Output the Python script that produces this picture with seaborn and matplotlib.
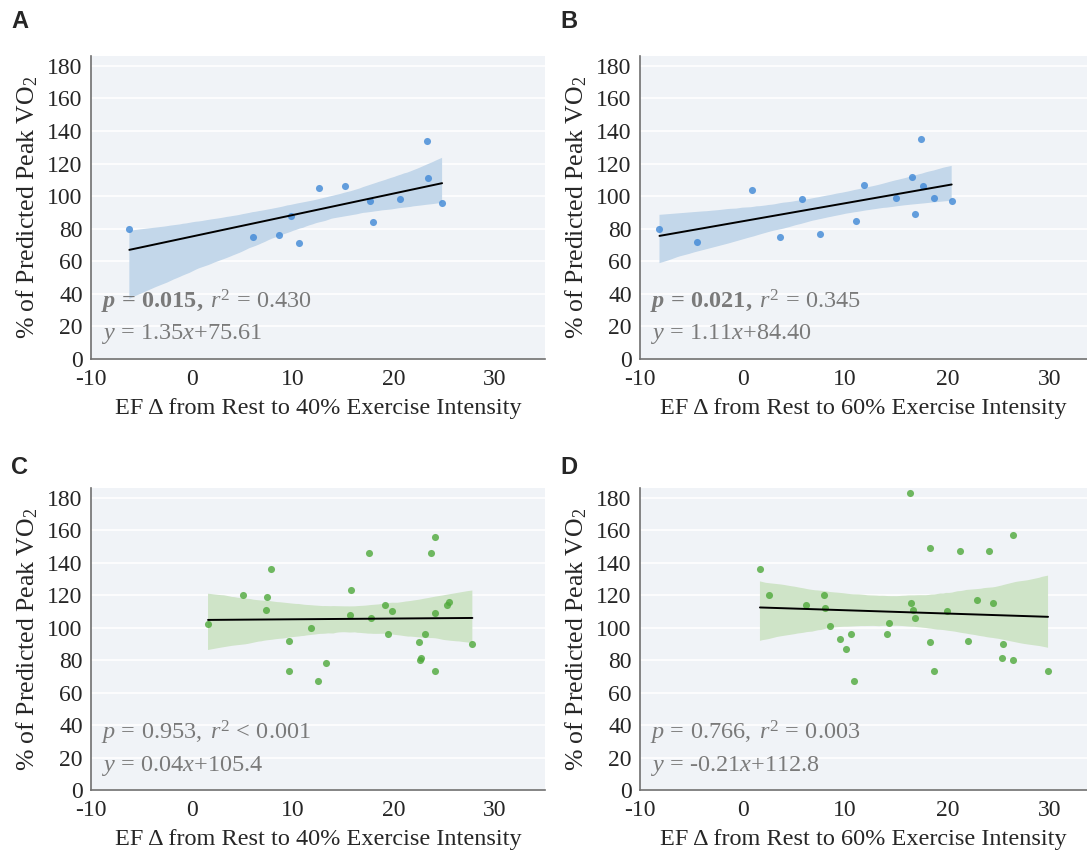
import numpy as np
import pandas as pd
import matplotlib
matplotlib.use("Agg")
import matplotlib.pyplot as plt
from matplotlib.ticker import MultipleLocator
import seaborn as sns

# EF change (x) vs % predicted peak VO2 (y)
a_ef = [-6.2, 6.1, 8.6, 9.8, 10.6, 12.6, 15.2, 17.7, 18.0, 20.6, 23.3, 23.4, 24.8]
a_vo2 = [80, 75, 76, 88, 71, 105, 106, 97, 84, 98, 134, 111, 96]

b_ef = [-8.1, -4.4, 0.9, 3.7, 5.8, 7.6, 11.1, 11.8, 15.0, 16.5, 16.8, 17.4, 17.6, 18.7, 20.4]
b_vo2 = [80, 72, 104, 75, 98, 77, 85, 107, 99, 112, 89, 135, 106, 99, 97]

c_ef = [1.6, 5.1, 7.4, 7.3, 7.8, 9.6, 9.6, 11.8, 12.5, 13.3, 15.7, 15.8, 17.6, 17.8,
        19.1, 19.4, 19.8, 22.5, 22.6, 22.7, 23.1, 23.7, 24.1, 24.1, 24.1, 25.3, 25.5, 27.8]
c_vo2 = [102, 120, 119, 111, 136, 92, 73, 100, 67, 78, 108, 123, 146, 106,
         114, 96, 110, 91, 80, 81, 96, 146, 156, 109, 73, 114, 116, 90]

d_ef = [16.3, 1.7, 2.6, 6.2, 7.9, 8.0, 8.5, 9.5, 10.1, 10.6, 10.9, 14.1, 14.3, 16.4, 16.6,
        16.8, 18.3, 18.3, 18.7, 19.9, 21.2, 22.0, 22.9, 24.0, 24.4, 25.4, 25.3, 26.4, 26.4, 29.8]
d_vo2 = [183, 136, 120, 114, 120, 112, 101, 93, 87, 96, 67, 96, 103, 115, 111,
         106, 91, 149, 73, 110, 147, 92, 117, 147, 115, 90, 81, 157, 80, 73]

letters = ["A", "B", "C", "D"]
xlabels = ["EF \u0394 from Rest to 40% Exercise Intensity",
           "EF \u0394 from Rest to 60% Exercise Intensity",
           "EF \u0394 from Rest to 40% Exercise Intensity",
           "EF \u0394 from Rest to 60% Exercise Intensity"]
stat_lines = [r"$\mathbfit{p}\mathbf{\,=\,0.015,}\;\mathit{r}^{2}\mathrm{\,=\,0.430}$",
              r"$\mathbfit{p}\mathbf{\,=\,0.021,}\;\mathit{r}^{2}\mathrm{\,=\,0.345}$",
              r"$\mathit{p}\mathrm{\,=\,0.953,}\;\mathit{r}^{2}\mathrm{\,<\,0.001}$",
              r"$\mathit{p}\mathrm{\,=\,0.766,}\;\mathit{r}^{2}\mathrm{\,=\,0.003}$"]
eq_lines = [r"$\mathit{y}\mathrm{\,=\,1.35}\mathit{x}\mathrm{+75.61}$",
            r"$\mathit{y}\mathrm{\,=\,1.11}\mathit{x}\mathrm{+84.40}$",
            r"$\mathit{y}\mathrm{\,=\,0.04}\mathit{x}\mathrm{+105.4}$",
            r"$\mathit{y}\mathrm{\,=\,}$-$\mathrm{0.21}\mathit{x}\mathrm{+112.8}$"]

BLUE = "#3f88d6"
BLUE_BAND = "#c3d7ea"
GREEN = "#4ea93a"
GREEN_BAND = "#cfe4c8"
BG = "#f0f3f7"
TXT = "#7a7a7a"

sns.set_style("white")
plt.rcParams["font.family"] = ["Liberation Serif", "DejaVu Serif"]
plt.rcParams["axes.unicode_minus"] = False
plt.rcParams["mathtext.fontset"] = "custom"
plt.rcParams["mathtext.rm"] = "Liberation Serif"
plt.rcParams["mathtext.it"] = "Liberation Serif:italic"
plt.rcParams["mathtext.bf"] = "Liberation Serif:bold"
plt.rcParams["mathtext.bfit"] = "Liberation Serif:bold:italic"

fig = plt.figure(figsize=(10.87, 8.58), dpi=100)
W, H = 1087, 858
# axes boxes in pixels: left, top, right, bottom
boxes = [(91, 56, 545, 359), (640, 56, 1087, 359),
         (91, 488, 545, 790), (640, 488, 1087, 790)]
xmax = [35, 33.6, 35, 33.6]
letter_y = [22, 22, 468, 468]

data = [(a_ef, a_vo2, BLUE, BLUE_BAND), (b_ef, b_vo2, BLUE, BLUE_BAND),
        (c_ef, c_vo2, GREEN, GREEN_BAND), (d_ef, d_vo2, GREEN, GREEN_BAND)]

for i, (ef, vo2, col, band) in enumerate(data):
    l, t, r, b = boxes[i]
    ax = fig.add_axes([l / W, 1 - b / H, (r - l) / W, (b - t) / H])
    ax.set_facecolor(BG)
    df = pd.DataFrame({"ef": ef, "vo2": vo2})
    sns.regplot(data=df, x="ef", y="vo2", ax=ax, ci=95, seed=3, truncate=True,
                scatter_kws={"s": 26, "color": col, "linewidths": 0, "zorder": 4},
                line_kws={"color": "black", "lw": 1.4, "zorder": 5})
    # recolour the CI band
    for coll in ax.collections[1:]:
        coll.set_facecolor(band)
        coll.set_alpha(1)
        coll.set_edgecolor("none")
        coll.set_zorder(2)

    ax.set_xlim(-10, xmax[i])
    ax.set_ylim(0, 186)
    ax.set_yticks(range(0, 181, 20))
    ax.xaxis.set_major_locator(MultipleLocator(10))
    ax.xaxis.set_minor_locator(MultipleLocator(2))
    ax.grid(axis="y", color="white", lw=1.2, zorder=1)
    ax.set_axisbelow(True)
    for s in ["top", "right"]:
        ax.spines[s].set_visible(False)
    for s in ["left", "bottom"]:
        ax.spines[s].set_color("#707070")
        ax.spines[s].set_linewidth(1.2)
    ax.tick_params(axis="x", direction="in", length=6, width=1, color="#707070",
                   labelsize=17, pad=7)
    ax.tick_params(axis="x", which="minor", direction="in", length=3, width=1,
                   color="#707070")
    ax.tick_params(axis="y", direction="out", length=5, width=1, color="#707070",
                   labelsize=17, pad=1)
    ax.set_xlabel(xlabels[i], fontsize=17.5, labelpad=6)
    ax.set_ylabel("% of Predicted Peak VO$_2$", fontsize=18.5, labelpad=5)

    ax.text(-9.0, 31, stat_lines[i], fontsize=17.5, color=TXT, va="baseline", zorder=6)
    ax.text(-9.0, 12, eq_lines[i], fontsize=17.5, color=TXT, va="baseline", zorder=6)

    fig.text((l - 80) / W, 1 - letter_y[i] / H, letters[i], fontsize=17,
             fontweight="bold", family="Liberation Sans", va="center", ha="left")

fig.savefig("out.png", dpi=100)
